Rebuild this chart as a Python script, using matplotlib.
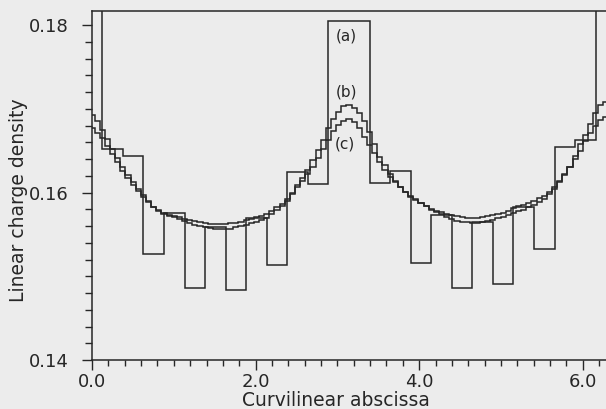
import numpy as np
import matplotlib.pyplot as plt

# element values, element k centred at k * 2pi / n
# (last value = wrap-around half element at 2pi)
dens_a = [0.1830, 0.1652, 0.1644, 0.1526, 0.1576, 0.1486, 0.1559, 0.1484, 0.1570,
          0.1513, 0.1624, 0.1610, 0.1805, 0.1805, 0.1611, 0.1626, 0.1516, 0.1573,
          0.1486, 0.1565, 0.1491, 0.1583, 0.1533, 0.1654, 0.1663, 0.1830]

dens_b = [0.16925, 0.16849, 0.16752, 0.16635, 0.16517, 0.16412, 0.16307, 0.16215, 0.16124, 0.16043,
          0.15965, 0.15899, 0.15833, 0.15783, 0.15759, 0.15735, 0.15718, 0.15703, 0.15688, 0.15673,
          0.15659, 0.15644, 0.15634, 0.15630, 0.15625, 0.15620, 0.15623, 0.15632, 0.15641, 0.15650,
          0.15666, 0.15684, 0.15703, 0.15722, 0.15743, 0.15784, 0.15823, 0.15864, 0.15919, 0.15994,
          0.16086, 0.16172, 0.16273, 0.16383, 0.16502, 0.16633, 0.16767, 0.16879, 0.16967, 0.17030,
          0.17045, 0.17014, 0.16947, 0.16855, 0.16727, 0.16579, 0.16428, 0.16325, 0.16223, 0.16143,
          0.16061, 0.16001, 0.15944, 0.15908, 0.15872, 0.15838, 0.15802, 0.15780, 0.15764, 0.15748,
          0.15733, 0.15716, 0.15705, 0.15700, 0.15696, 0.15692, 0.15706, 0.15719, 0.15731, 0.15746,
          0.15760, 0.15782, 0.15810, 0.15835, 0.15856, 0.15878, 0.15902, 0.15931, 0.15962, 0.16011,
          0.16066, 0.16140, 0.16217, 0.16308, 0.16432, 0.16574, 0.16683, 0.16818, 0.16947, 0.17048,
          0.17084]

dens_c = [0.16767, 0.16715, 0.16646, 0.16554, 0.16461, 0.16361, 0.16257, 0.16173, 0.16093, 0.16018,
          0.15950, 0.15888, 0.15827, 0.15788, 0.15748, 0.15725, 0.15703, 0.15680, 0.15656, 0.15634,
          0.15618, 0.15602, 0.15588, 0.15576, 0.15568, 0.15561, 0.15561, 0.15570, 0.15583, 0.15595,
          0.15612, 0.15631, 0.15651, 0.15671, 0.15690, 0.15740, 0.15788, 0.15840, 0.15899, 0.15985,
          0.16065, 0.16137, 0.16220, 0.16305, 0.16411, 0.16519, 0.16626, 0.16732, 0.16805, 0.16856,
          0.16874, 0.16842, 0.16770, 0.16658, 0.16562, 0.16470, 0.16361, 0.16263, 0.16191, 0.16124,
          0.16062, 0.16008, 0.15963, 0.15920, 0.15877, 0.15835, 0.15792, 0.15762, 0.15739, 0.15713,
          0.15688, 0.15665, 0.15649, 0.15643, 0.15637, 0.15632, 0.15647, 0.15660, 0.15672, 0.15691,
          0.15710, 0.15731, 0.15754, 0.15776, 0.15796, 0.15822, 0.15852, 0.15887, 0.15921, 0.15980,
          0.16045, 0.16125, 0.16208, 0.16305, 0.16401, 0.16500, 0.16616, 0.16713, 0.16798, 0.16869,
          0.16905]

etiquetas = ["(a)", "(b)", "(c)"]
pos_etiquetas = [(3.11, 0.17872), (3.11, 0.17204), (3.09, 0.16579)]

xticks = [0.0, 2.0, 4.0, 6.0]
xtick_labels = ["0.0", "2.0", "4.0", "6.0"]
yticks = [0.14, 0.16, 0.18]
ytick_labels = ["0.14", "0.16", "0.18"]

L = 2 * np.pi
negro = "#262626"
fondo = "#ececec"


def bordes(n):
    # element boundaries (k+1/2)h, plus the ends of the abscissa
    h = L / n
    return np.concatenate([[0.0], (np.arange(n) + 0.5) * h, [L]])


fig = plt.figure(figsize=(6.06, 4.09), dpi=100, facecolor=fondo)
ax = fig.add_axes([0.1518, 0.1198, 0.8482, 0.8538], facecolor=fondo)

for dens in (dens_a, dens_b, dens_c):
    n = len(dens) - 1
    ax.stairs(dens, bordes(n), baseline=None, color=negro, lw=1.1)

for txt, (xt, yt) in zip(etiquetas, pos_etiquetas):
    ax.text(xt, yt, txt, ha="center", va="center", fontsize=11, color=negro)

ax.set_xlim(0, L)
ax.set_ylim(0.14, 0.1817)

ax.set_xticks(xticks)
ax.set_xticklabels(xtick_labels)
ax.set_xticks(np.arange(0, 6.3, 0.2), minor=True)
ax.set_yticks(yticks)
ax.set_yticklabels(ytick_labels)
ax.set_yticks(np.arange(0.14, 0.1801, 0.002), minor=True)

ax.tick_params(axis="y", which="major", direction="out", length=7, width=1.0,
               pad=10, labelsize=13, colors=negro)
ax.tick_params(axis="y", which="minor", direction="out", length=5, width=1.0, colors=negro)
ax.tick_params(axis="x", which="major", direction="out", length=7, width=1.0,
               pad=2, labelsize=13, colors=negro)
ax.tick_params(axis="x", which="minor", direction="out", length=4, width=1.0, colors=negro)

for lado in ("left", "bottom", "top"):
    ax.spines[lado].set_color(negro)
    ax.spines[lado].set_linewidth(1.1)
ax.spines["right"].set_visible(False)

ax.set_xlabel("Curvilinear abscissa", fontsize=13.5, color=negro)
ax.set_ylabel("Linear charge density", fontsize=13.5, color=negro)
ax.xaxis.set_label_coords(0.475, -0.089)
ax.yaxis.set_label_coords(-0.125, 0.458)

fig.savefig("out.png", dpi=100, facecolor=fondo)
